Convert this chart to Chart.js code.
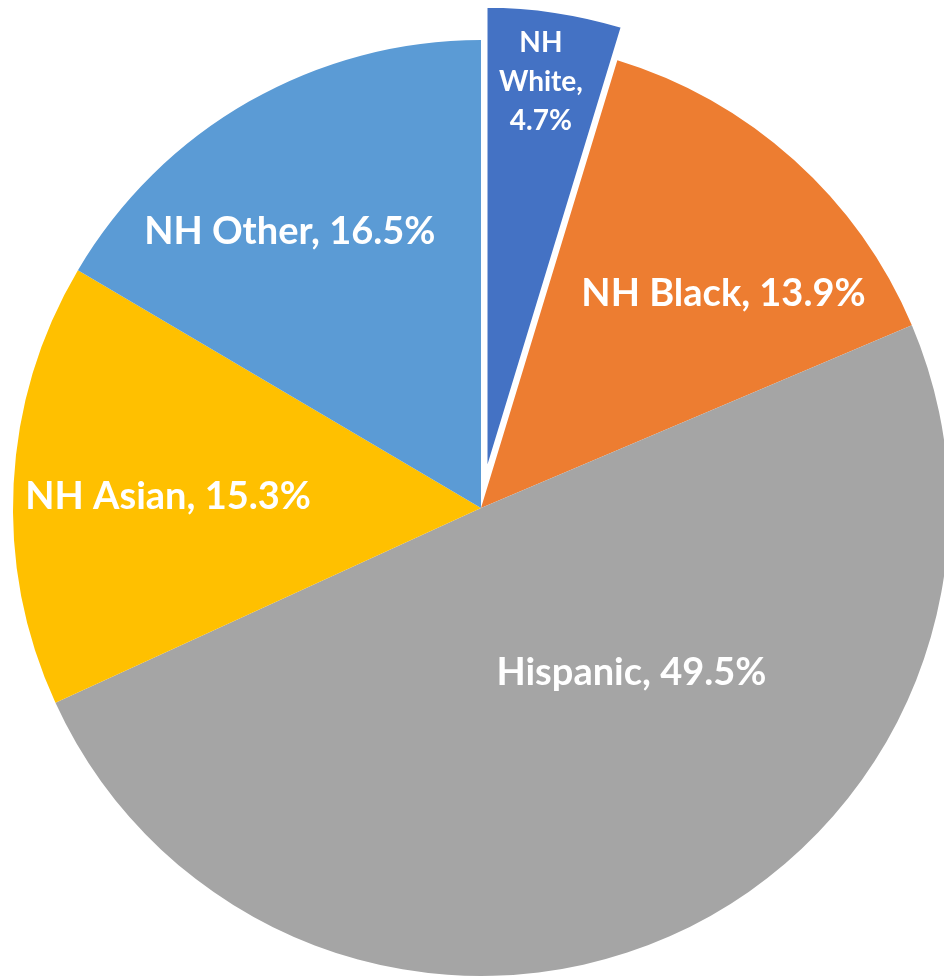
<!DOCTYPE html>
<html><head><meta charset="utf-8">
<script src="https://cdn.jsdelivr.net/npm/chart.js@4"></script>
<style>html,body{margin:0;padding:0;background:#fff;overflow:hidden}canvas{display:block}</style>
</head><body>
<canvas id="c" width="944" height="977"></canvas>
<script>
const categories = ['NH White', 'NH Black', 'Hispanic', 'NH Asian', 'NH Other'];
const shares = [4.7, 13.9, 49.5, 15.3, 16.5];
const valueLabels = ['4.7%', '13.9%', '49.5%', '15.3%', '16.5%'];
const sliceColors = ['#4472C4', '#ED7D31', '#A5A5A5', '#FFC000', '#5B9BD5'];

const explodePlugin = {
  id: 'explode',
  beforeDatasetsDraw(chart, args, opts) {
    const meta = chart.getDatasetMeta(0);
    meta.data.forEach((arc, i) => {
      const d = opts.distance[i] || 0;
      if (!d || arc._exploded) return;
      const orig = arc.draw;
      arc.draw = function (ctx) {
        const mid = (this.startAngle + this.endAngle) / 2;
        ctx.save();
        ctx.translate(Math.cos(mid) * d, Math.sin(mid) * d);
        orig.call(this, ctx);
        ctx.restore();
      };
      arc._exploded = true;
    });
  }
};

const sliceLabelPlugin = {
  id: 'sliceLabels',
  afterDatasetsDraw(chart, args, opts) {
    const meta = chart.getDatasetMeta(0);
    const explode = chart.options.plugins.explode.distance;
    const ctx = chart.ctx;
    ctx.save();
    ctx.fillStyle = opts.color;
    ctx.textAlign = 'center';
    ctx.textBaseline = 'middle';
    meta.data.forEach((arc, i) => {
      const mid = (arc.startAngle + arc.endAngle) / 2;
      const d = explode[i] || 0;
      const bx = arc.x + Math.cos(mid) * d;
      const by = arc.y + Math.sin(mid) * d;
      const a = mid + opts.shiftDeg[i] * Math.PI / 180;
      const r = arc.outerRadius * opts.radiusFrac[i];
      const x = bx + Math.cos(a) * r;
      const y = by + Math.sin(a) * r;
      let lines;
      if (opts.wrap[i]) {
        lines = categories[i].split(' ');
        lines[lines.length - 1] += ',';
        lines.push(valueLabels[i]);
      } else {
        lines = [categories[i] + ', ' + valueLabels[i]];
      }
      ctx.font = 'bold ' + opts.fontSize[i] + 'px ' + opts.family;
      const lh = opts.lineHeight[i];
      const y0 = y - (lines.length - 1) * lh / 2;
      lines.forEach((t, k) => ctx.fillText(t, x, y0 + k * lh));
    });
    ctx.restore();
  }
};

new Chart(document.getElementById('c'), {
  type: 'pie',
  data: {
    labels: categories,
    datasets: [{
      data: shares,
      backgroundColor: sliceColors,
      borderColor: '#FFFFFF',
      borderWidth: [3, 0, 0, 0, 0],
      radius: 468,
      clip: false
    }]
  },
  options: {
    responsive: false,
    animation: false,
    events: [],
    layout: { padding: { left: 18, right: 0, top: 39, bottom: 0 } },
    plugins: {
      legend: { display: false },
      tooltip: { enabled: false },
      title: { display: false },
      explode: { distance: [34, 0, 0, 0, 0] },
      sliceLabels: {
        color: '#FFFFFF',
        family: 'Lato, "Open Sans", sans-serif',
        fontSize: [28, 38, 38, 38, 38],
        lineHeight: [39, 38, 38, 38, 38],
        wrap: [true, false, false, false, false],
        shiftDeg: [-0.5, 6.5, -18.7, -0.9, -5.0],
        radiusFrac: [0.846, 0.692, 0.476, 0.669, 0.717]
      }
    }
  },
  plugins: [explodePlugin, sliceLabelPlugin]
});
</script>
</body></html>
